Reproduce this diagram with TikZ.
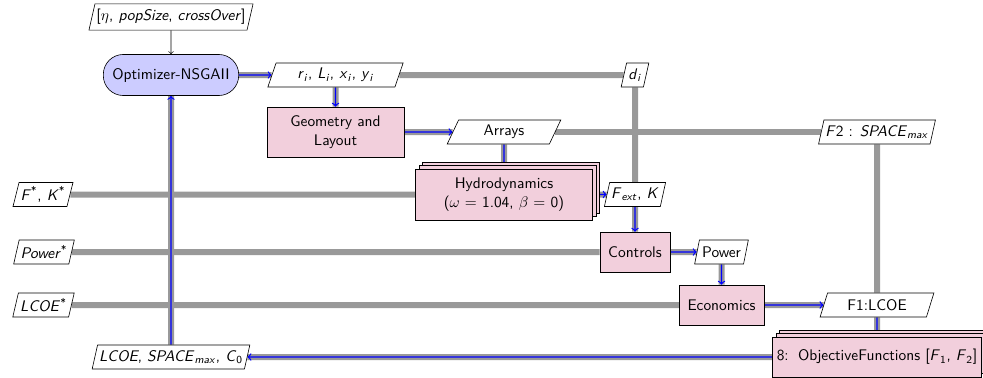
\documentclass[tikz,border=0pt]{standalone}
\usetikzlibrary{shapes.geometric,shadows,backgrounds}
\definecolor{funcpink}{RGB}{242,207,220}
\definecolor{optblue}{RGB}{204,204,255}
\newcommand{\vsub}[2]{\textit{#1}\textsubscript{\textit{#2}}}
\newcommand{\vsup}[1]{\textit{#1}\textsuperscript{*}}
\begin{document}
\begin{tikzpicture}[x=0.65pt, y=-0.65pt,
    every node/.style={font=\sffamily},
    datanode/.style={trapezium, trapezium left angle=72, trapezium right angle=108,
        trapezium stretches=true, draw, fill=white, minimum height=15.6pt, inner sep=1pt},
    funcbox/.style={rectangle, draw, fill=funcpink, align=center, inner sep=2pt},
    stackbox/.style={funcbox, double copy shadow={shadow xshift=2.3pt, shadow yshift=2.3pt}},
    optbox/.style={rectangle, rounded corners=13pt, draw, fill=optblue},
    dataline/.style={line width=3.9pt, black!40},
    procline/.style={blue, line width=0.8pt}]
    \useasboundingbox (0,0) rectangle (983,378);
    % nodes on the diagonal
    \node[optbox, minimum width=88pt, minimum height=26.7pt] (opt) at (171,75) {Optimizer-NSGAII};
    \node[funcbox, minimum width=89pt, minimum height=32.5pt] (geo) at (335.5,132) {Geometry and\\Layout};
    \node[stackbox, minimum width=115pt, minimum height=33pt] (hydro) at (504,194.5) {Hydrodynamics\\($\omega$ = 1.04, $\beta$ = 0)};
    \node[funcbox, minimum width=45.5pt, minimum height=26pt] (ctrl) at (635,252) {Controls};
    \node[funcbox, minimum width=55pt, minimum height=26pt] (econ) at (721.5,305) {Economics};
    \node[stackbox, minimum width=136pt, minimum height=26pt] (obj) at (877,357) {8:\, ObjectiveFunctions [\textit{F}\textsubscript{1}, \textit{F}\textsubscript{2}]};
    % data
    \node[datanode, minimum width=105pt, minimum height=17pt] (top) at (171,17) {[$\eta$, \textit{popSize}, \textit{crossOver}]};
    \node[datanode, minimum width=88pt] (ri) at (335.5,75) {\vsub{r}{i}, \vsub{L}{i}, \vsub{x}{i}, \vsub{y}{i}};
    \node[datanode, minimum width=18pt] (di) at (635,75) {\vsub{d}{i}};
    \node[datanode, minimum width=74pt] (arrays) at (504,132) {Arrays};
    \node[datanode, minimum width=74pt] (ftwo) at (877,132) {\textit{F}2 : \vsub{SPACE}{max}};
    \node[datanode, minimum width=37pt] (fk) at (43,194.5) {\vsup{F}, \vsup{K}};
    \node[datanode, minimum width=38pt] (fext) at (635,194.5) {\vsub{F}{ext}, \textit{K}};
    \node[datanode, minimum width=39pt] (pstar) at (44,252) {\vsup{Power}};
    \node[datanode, minimum width=35pt] (power) at (721.5,252) {Power};
    \node[datanode, minimum width=40pt] (lstar) at (43.5,305) {\vsup{LCOE}};
    \node[datanode, minimum width=74pt] (fone) at (877,305) {F1:LCOE};
    \node[datanode, minimum width=101pt] (lsc) at (171,357) {\textit{LCOE}, \vsub{SPACE}{max}, \textit{C}\textsubscript{0}};
    \begin{pgfonlayer}{background}
        \draw[dataline] (opt) -- (ri);
        \draw[dataline] (ri) -- (di);
        \draw[dataline] (geo) -- (arrays);
        \draw[dataline] (arrays) -- (ftwo);
        \draw[dataline] (fk) -- (hydro);
        \draw[dataline] (hydro) -- (fext);
        \draw[dataline] (pstar) -- (ctrl);
        \draw[dataline] (ctrl) -- (power);
        \draw[dataline] (lstar) -- (econ);
        \draw[dataline] (econ) -- (fone);
        \draw[dataline] (obj) -- (lsc);
        \draw[dataline] (ri) -- (geo);
        \draw[dataline] (arrays) -- (hydro);
        \draw[dataline] (di) -- (fext);
        \draw[dataline] (fext) -- (ctrl);
        \draw[dataline] (power) -- (econ);
        \draw[dataline] (ftwo) -- (fone);
        \draw[dataline] (fone) -- (obj);
        \draw[dataline] (lsc) -- (opt);
        % process chain
        \draw[procline, ->] (opt) -- (ri);
        \draw[procline, ->] (ri) -- (geo);
        \draw[procline, ->] (geo) -- (arrays);
        \draw[procline] (arrays) -- (hydro);
        \draw[procline, ->] (hydro) -- (fext);
        \draw[procline, ->] (fext) -- (ctrl);
        \draw[procline, ->] (ctrl) -- (power);
        \draw[procline, ->] (power) -- (econ);
        \draw[procline, ->] (econ) -- (fone);
        \draw[procline] (fone) -- (obj);
        \draw[procline, ->] (obj) -- (lsc);
        \draw[procline, ->] (lsc) -- (opt);
    \end{pgfonlayer}
    \draw[->] (top) -- (opt);
\end{tikzpicture}
\end{document}
